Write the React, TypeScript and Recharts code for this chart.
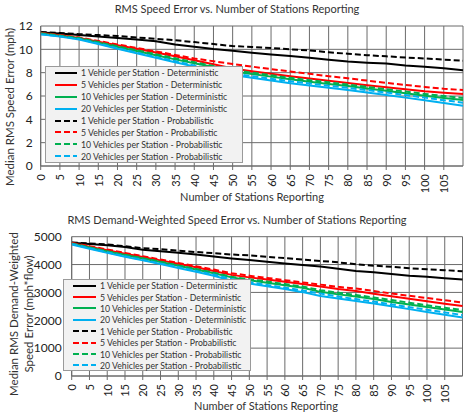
import { CartesianGrid, Legend, Line, LineChart, XAxis, YAxis } from "recharts";

const stations = [0, 5, 10, 15, 20, 25, 30, 35, 40, 45, 50, 55, 60, 65, 70, 75, 80, 85, 90, 95, 100, 105, 110];
const stationTicks = [0, 5, 10, 15, 20, 25, 30, 35, 40, 45, 50, 55, 60, 65, 70, 75, 80, 85, 90, 95, 100, 105];

// RMS speed error (mph)
const speedDet1 = [11.45, 11.35, 11.23, 11.1, 10.98, 10.85, 10.7, 10.42, 10.22, 10.02, 9.87, 9.7, 9.55, 9.42, 9.27, 9.1, 8.95, 8.86, 8.78, 8.62, 8.5, 8.37, 8.2];
const speedDet5 = [11.4, 11.2, 10.98, 10.66, 10.35, 10.05, 9.72, 9.4, 9.07, 8.72, 8.35, 8.12, 7.9, 7.7, 7.5, 7.3, 7.12, 6.93, 6.75, 6.57, 6.4, 6.27, 6.17];
const speedDet10 = [11.35, 11.15, 10.94, 10.57, 10.2, 9.85, 9.5, 9.14, 8.8, 8.48, 8.12, 7.88, 7.66, 7.44, 7.23, 7.03, 6.85, 6.65, 6.45, 6.24, 6.03, 5.83, 5.65];
const speedDet20 = [11.3, 11.1, 10.85, 10.45, 10.05, 9.66, 9.28, 8.9, 8.53, 8.17, 7.8, 7.56, 7.33, 7.1, 6.9, 6.7, 6.52, 6.3, 6.08, 5.86, 5.63, 5.4, 5.17];
const speedProb1 = [11.48, 11.4, 11.3, 11.22, 11.14, 11.02, 10.9, 10.78, 10.62, 10.45, 10.28, 10.2, 10.12, 10.0, 9.9, 9.75, 9.62, 9.5, 9.4, 9.3, 9.22, 9.12, 9.03];
const speedProb5 = [11.42, 11.22, 11.02, 10.72, 10.42, 10.12, 9.82, 9.52, 9.22, 8.98, 8.74, 8.52, 8.3, 8.1, 7.9, 7.7, 7.52, 7.32, 7.13, 6.95, 6.78, 6.62, 6.51];
const speedProb10 = [11.38, 11.18, 10.97, 10.62, 10.26, 9.92, 9.58, 9.23, 8.9, 8.58, 8.23, 8.0, 7.78, 7.56, 7.36, 7.17, 6.98, 6.78, 6.58, 6.38, 6.18, 6.0, 5.82];
const speedProb20 = [11.3, 11.12, 10.88, 10.5, 10.1, 9.72, 9.35, 8.98, 8.62, 8.27, 7.92, 7.7, 7.48, 7.27, 7.07, 6.88, 6.7, 6.5, 6.3, 6.08, 5.86, 5.64, 5.43];
const speedTicks = [0, 2, 4, 6, 8, 10, 12];

// RMS demand-weighted speed error (mph*flow)
const demandDet1 = [4780, 4740, 4690, 4630, 4530, 4480, 4420, 4360, 4290, 4220, 4160, 4100, 4040, 3980, 3930, 3850, 3770, 3720, 3660, 3600, 3560, 3510, 3460];
const demandDet5 = [4770, 4640, 4510, 4390, 4270, 4150, 4030, 3900, 3770, 3630, 3540, 3460, 3380, 3300, 3210, 3120, 3050, 2950, 2860, 2770, 2680, 2590, 2510];
const demandDet10 = [4750, 4610, 4470, 4340, 4220, 4090, 3960, 3820, 3690, 3540, 3440, 3350, 3260, 3170, 3020, 2930, 2850, 2760, 2660, 2570, 2480, 2390, 2300];
const demandDet20 = [4720, 4570, 4420, 4280, 4150, 4020, 3880, 3740, 3600, 3420, 3320, 3220, 3120, 3010, 2870, 2780, 2690, 2600, 2500, 2400, 2300, 2200, 2100];
const demandProb1 = [4790, 4760, 4720, 4660, 4590, 4550, 4500, 4450, 4410, 4360, 4330, 4280, 4230, 4180, 4130, 4080, 4010, 3960, 3920, 3870, 3830, 3800, 3760];
const demandProb5 = [4780, 4660, 4540, 4420, 4300, 4180, 4060, 3940, 3820, 3690, 3600, 3520, 3440, 3360, 3280, 3200, 3140, 3050, 2960, 2880, 2800, 2720, 2640];
const demandProb10 = [4760, 4620, 4480, 4350, 4230, 4100, 3970, 3840, 3710, 3560, 3470, 3390, 3300, 3210, 3080, 2990, 2910, 2820, 2730, 2630, 2540, 2450, 2370];
const demandProb20 = [4740, 4590, 4440, 4300, 4170, 4040, 3910, 3770, 3640, 3480, 3370, 3270, 3170, 3070, 2960, 2850, 2760, 2670, 2570, 2470, 2380, 2280, 2190];
const demandTicks = [0, 1000, 2000, 3000, 4000, 5000];

const seriesLabels = [
  "1 Vehicle per Station - Deterministic",
  "5 Vehicles per Station - Deterministic",
  "10 Vehicles per Station - Deterministic",
  "20 Vehicles per Station - Deterministic",
  "1 Vehicle per Station - Probabilistic",
  "5 Vehicles per Station - Probabilistic",
  "10 Vehicles per Station - Probabilistic",
  "20 Vehicles per Station - Probabilistic",
];

const FONT = "Lato, 'Open Sans', sans-serif";
const GRID = "#6b6b6b";
const DASH = "6 3";

const series = [
  { key: "det1", color: "#000000", dash: undefined },
  { key: "det5", color: "#ff0000", dash: undefined },
  { key: "det10", color: "#00b050", dash: undefined },
  { key: "det20", color: "#00b0f0", dash: undefined },
  { key: "prob1", color: "#000000", dash: DASH },
  { key: "prob5", color: "#ff0000", dash: DASH },
  { key: "prob10", color: "#00b050", dash: DASH },
  { key: "prob20", color: "#00b0f0", dash: DASH },
].map((s, i) => ({ ...s, name: seriesLabels[i] }));

function buildRows(cols: number[][]) {
  return stations.map((n, i) => {
    const row: Record<string, number> = { n };
    series.forEach((s, j) => (row[s.key] = cols[j][i]));
    return row;
  });
}

const speedRows = buildRows([speedDet1, speedDet5, speedDet10, speedDet20, speedProb1, speedProb5, speedProb10, speedProb20]);
const demandRows = buildRows([demandDet1, demandDet5, demandDet10, demandDet20, demandProb1, demandProb5, demandProb10, demandProb20]);

function StationTick({ x, y, payload }: any) {
  const ty = y + 2;
  return (
    <text
      x={x}
      y={ty}
      transform={`rotate(-90 ${x} ${ty})`}
      textAnchor="end"
      dominantBaseline="central"
      fontSize={11}
      fontFamily={FONT}
      fill="#222"
    >
      {payload.value}
    </text>
  );
}

function LegendBox({ rowHeight, sample }: { rowHeight: number; sample: number }) {
  return (
    <div
      style={{
        background: "#f2f2f2",
        border: "1px solid #9a9a9a",
        boxSizing: "border-box",
        width: "100%",
        height: "100%",
        padding: "0 0 0 9px",
        fontFamily: FONT,
        fontSize: 8.7,
        color: "#333",
      }}
    >
      {series.map((s) => (
        <div key={s.key} style={{ display: "flex", alignItems: "center", height: rowHeight, whiteSpace: "nowrap" }}>
          <svg width={sample + 2} height={6} style={{ marginRight: 2 }}>
            <line x1={0} y1={3} x2={sample} y2={3} stroke={s.color} strokeWidth={2} strokeDasharray={s.dash} />
          </svg>
          {s.name}
        </div>
      ))}
    </div>
  );
}

function ErrorChart({
  rows,
  yTicks,
  yMax,
  height,
  yAxisWidth,
  yTickGap,
  top,
  right,
  bottom,
  legend,
}: {
  rows: Record<string, number>[];
  yTicks: number[];
  yMax: number;
  height: number;
  yAxisWidth: number;
  yTickGap: number;
  top: number;
  right: number;
  bottom: number;
  legend: { left: number; top: number; width: number; height: number; rowHeight: number; sample: number };
}) {
  return (
    <LineChart width={464} height={height} data={rows} margin={{ top, right, bottom, left: 0 }}>
      <CartesianGrid stroke={GRID} strokeWidth={1} />
      <XAxis
        dataKey="n"
        type="number"
        domain={[0, 110]}
        ticks={stationTicks}
        interval={0}
        height={30}
        stroke={GRID}
        tickSize={4}
        tick={<StationTick />}
      />
      <YAxis
        type="number"
        domain={[0, yMax]}
        ticks={yTicks}
        interval={0}
        width={yAxisWidth}
        stroke={GRID}
        tickLine={false}
        tickSize={0}
        tickMargin={yTickGap}
        tick={{ fontSize: 12, fontFamily: FONT, fill: "#222" }}
      />
      {series.map((s) => (
        <Line
          key={s.key}
          dataKey={s.key}
          name={s.name}
          stroke={s.color}
          strokeWidth={2}
          strokeDasharray={s.dash}
          dot={false}
          isAnimationActive={false}
        />
      ))}
      {/* middle/center keeps the legend from taking space off the plot */}
      <Legend
        layout="horizontal"
        verticalAlign="middle"
        align="center"
        content={() => <LegendBox rowHeight={legend.rowHeight} sample={legend.sample} />}
        wrapperStyle={{ left: legend.left, top: legend.top, width: legend.width, height: legend.height }}
      />
    </LineChart>
  );
}

const textStyle: React.CSSProperties = {
  position: "absolute",
  fontFamily: FONT,
  color: "#333",
  whiteSpace: "nowrap",
  transform: "translate(-50%, -50%)",
};

export default function App() {
  return (
    <div style={{ position: "absolute", left: 0, top: 0, width: 464, height: 412, background: "#fff", overflow: "hidden" }}>
      <div style={{ position: "absolute", left: 0, top: 0 }}>
        <ErrorChart
          rows={speedRows}
          yTicks={speedTicks}
          yMax={12}
          height={205}
          yAxisWidth={40.7}
          yTickGap={8}
          top={26}
          right={1}
          bottom={9}
          legend={{ left: 45, top: 66, width: 198, height: 97, rowHeight: 11.9, sample: 22 }}
        />
      </div>
      <div style={{ position: "absolute", left: 0, top: 205 }}>
        <ErrorChart
          rows={demandRows}
          yTicks={demandTicks}
          yMax={5000}
          height={207}
          yAxisWidth={71.7}
          yTickGap={10}
          top={31.7}
          right={1.5}
          bottom={6}
          legend={{ left: 63, top: 74, width: 188, height: 92, rowHeight: 11.4, sample: 23 }}
        />
      </div>

      <div style={{ ...textStyle, left: 237, top: 8, fontSize: 11 }}>RMS Speed Error vs. Number of Stations Reporting</div>
      <div style={{ ...textStyle, left: 252, top: 196, fontSize: 11 }}>Number of Stations Reporting</div>
      <div style={{ ...textStyle, left: 8.5, top: 107, fontSize: 11.5, transform: "translate(-50%, -50%) rotate(-90deg)" }}>
        Median RMS Speed Error (mph)
      </div>

      <div style={{ ...textStyle, left: 237, top: 219, fontSize: 11 }}>
        RMS Demand-Weighted Speed Error vs. Number of Stations Reporting
      </div>
      <div style={{ ...textStyle, left: 266, top: 405, fontSize: 11 }}>Number of Stations Reporting</div>
      <div
        style={{
          ...textStyle,
          left: 21,
          top: 314,
          fontSize: 11.5,
          lineHeight: "14.5px",
          textAlign: "center",
          transform: "translate(-50%, -50%) rotate(-90deg)",
        }}
      >
        Median RMS Demand-Weighted
        <br />
        Speed Error (mph*flow)
      </div>
    </div>
  );
}
